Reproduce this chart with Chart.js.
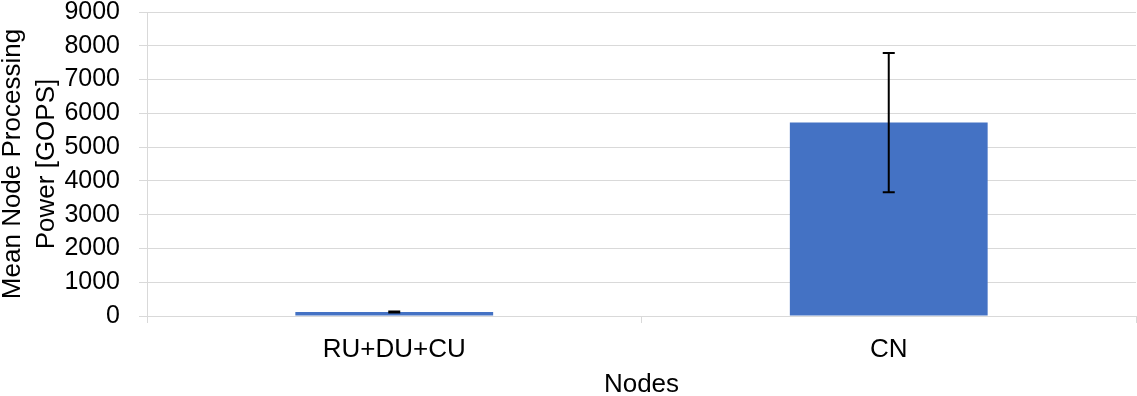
<!DOCTYPE html>
<html>
<head>
<meta charset="utf-8">
<script src="https://cdn.jsdelivr.net/npm/chart.js@4"></script>
<style>
  html, body { margin: 0; padding: 0; background: #fff; }
  #wrap { width: 1137px; height: 396px; }
</style>
</head>
<body>
<div id="wrap"><canvas id="nodesChart" width="1137" height="396"></canvas></div>
<script>
// Datos del gráfico
const categories = ['RU+DU+CU', 'CN'];
const meanPower = [115, 5725];
const powerError = [15, 2060];
const yTicks = [0, 1000, 2000, 3000, 4000, 5000, 6000, 7000, 8000, 9000];

const fontFamily = '"Liberation Sans", Arial, sans-serif';
const gridColor = '#d9d9d9';

// Barras de error dibujadas con las escalas del gráfico
const errorBarPlugin = {
  id: 'errorBars',
  afterDatasetsDraw(chart) {
    const ctx = chart.ctx;
    const yScale = chart.scales.y;
    const meta = chart.getDatasetMeta(0);
    ctx.save();
    ctx.strokeStyle = '#000';
    ctx.lineWidth = 2;
    meta.data.forEach((bar, i) => {
      const x = bar.x;
      const yTop = yScale.getPixelForValue(meanPower[i] + powerError[i]);
      const yBot = yScale.getPixelForValue(meanPower[i] - powerError[i]);
      const cap = 6;
      ctx.beginPath();
      ctx.moveTo(x, yTop);
      ctx.lineTo(x, yBot);
      ctx.moveTo(x - cap, yTop);
      ctx.lineTo(x + cap, yTop);
      ctx.moveTo(x - cap, yBot);
      ctx.lineTo(x + cap, yBot);
      ctx.stroke();
    });
    ctx.restore();
  }
};

const data = {
  labels: categories,
  datasets: [
    {
      label: 'Mean Node Processing Power',
      data: meanPower,
      backgroundColor: '#4472c4',
      categoryPercentage: 1,
      barPercentage: 0.4,
    },
  ],
};

const config = {
  type: 'bar',
  data: data,
  options: {
    responsive: false,
    animation: false,
    layout: { padding: { top: 0, right: 1, bottom: 0, left: 0 } },
    plugins: {
      legend: { display: false },
      tooltip: { enabled: false },
    },
    scales: {
      x: {
        grid: { offset: true, drawOnChartArea: false, drawTicks: true, tickLength: 7, color: gridColor },
        border: { color: gridColor },
        ticks: { color: '#000', font: { family: fontFamily, size: 26 }, padding: 11, maxRotation: 0 },
        title: {
          display: true,
          text: 'Nodes',
          color: '#000',
          font: { family: fontFamily, size: 26, lineHeight: 1 },
          padding: { top: 0, bottom: -2 },
        },
        afterFit: (scale) => { scale.height = 80; },
      },
      y: {
        min: yTicks[0],
        max: yTicks[yTicks.length - 1],
        grid: { color: gridColor, tickLength: 8 },
        border: { color: gridColor },
        ticks: {
          stepSize: yTicks[1] - yTicks[0],
          autoSkip: false,
          color: '#000',
          font: { family: fontFamily, size: 25, lineHeight: 1 },
          padding: 19,
          callback: (value) => String(value),
        },
        title: {
          display: true,
          text: ['Mean Node Processing', 'Power [GOPS]'],
          color: '#000',
          font: { family: fontFamily, size: 26, lineHeight: 1.3 },
          padding: { top: -4, bottom: 0 },
        },
        afterFit: (scale) => {
          scale.width = 147;
          scale.paddingTop = 12;
        },
      },
    },
  },
  plugins: [errorBarPlugin],
};

const chartInstance = new Chart(document.getElementById('nodesChart'), config);
</script>
</body>
</html>
